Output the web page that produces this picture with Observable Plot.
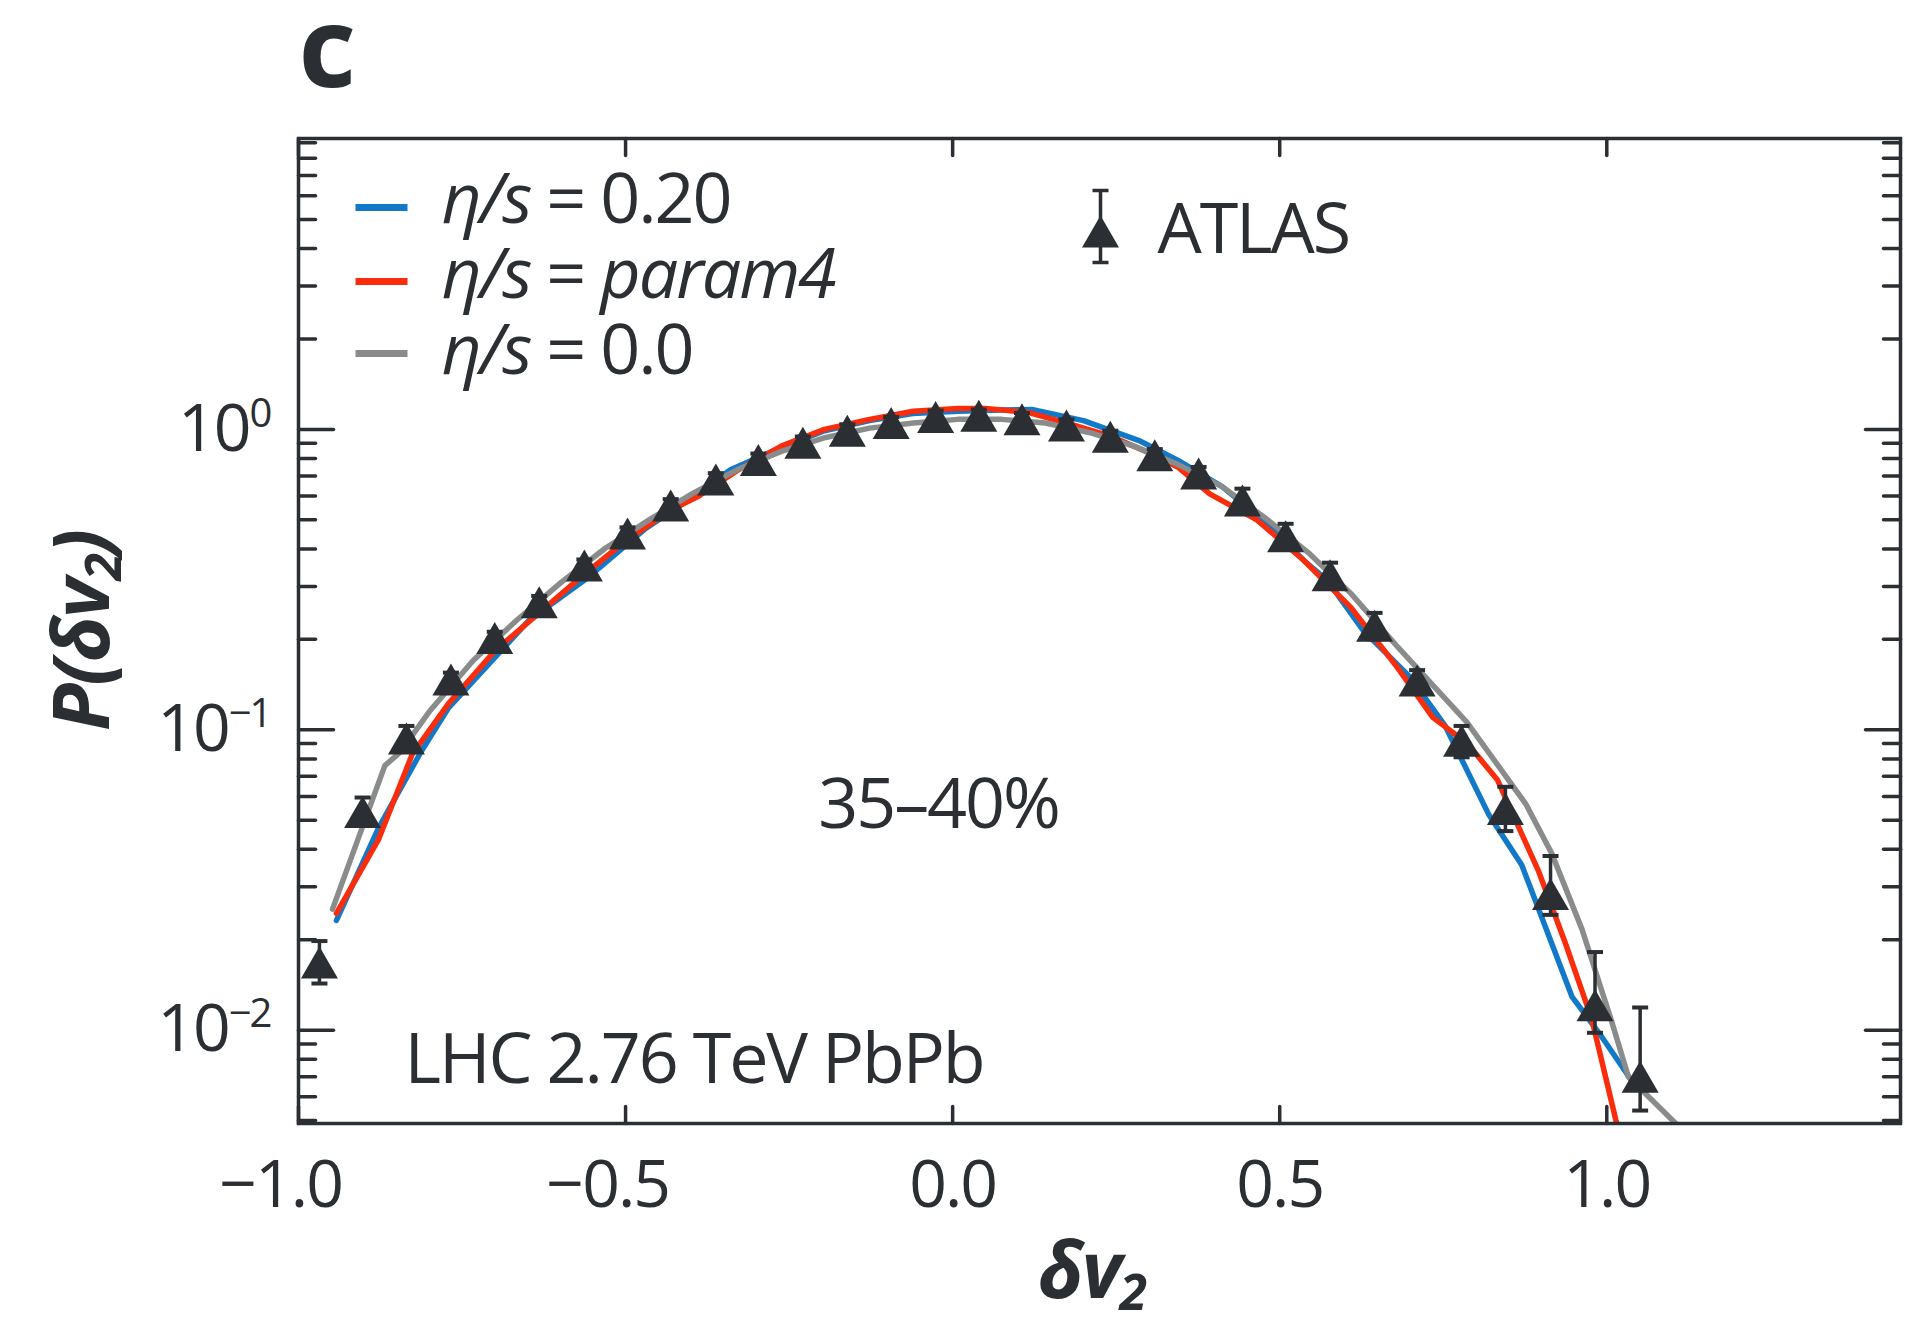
<!DOCTYPE html>
<html>
<head>
<meta charset="utf-8">
<script src="https://cdn.jsdelivr.net/npm/d3@7"></script>
<script src="https://cdn.jsdelivr.net/npm/@observablehq/plot@0.6"></script>
<style>
  html, body { margin: 0; padding: 0; background: #fff; overflow: hidden; }
  #chart { position: relative; width: 1922px; height: 1326px; }
  #chart svg { display: block; }
  #chart svg text { letter-spacing: -0.03em; }
</style>
</head>
<body>
<div id="chart"></div>
<script>
// ---------------- data ----------------
// ATLAS points: δv2 bin centres, P(δv2), and error-bar ends
const atlasX = [-0.968, -0.902, -0.835, -0.767, -0.700, -0.632, -0.563, -0.497, -0.431, -0.362, -0.297, -0.229, -0.161, -0.094, -0.026, 0.040, 0.106, 0.174, 0.241, 0.309, 0.376, 0.443, 0.509, 0.577, 0.645, 0.710, 0.778, 0.845, 0.914, 0.982, 1.051];
const atlasP = [0.0168, 0.0533, 0.0936, 0.147, 0.202, 0.266, 0.352, 0.450, 0.558, 0.681, 0.791, 0.902, 0.99, 1.05, 1.10, 1.11, 1.08, 1.03, 0.946, 0.82, 0.713, 0.58, 0.441, 0.327, 0.222, 0.146, 0.092, 0.0545, 0.0284, 0.0121, 0.0070];
const atlasLow = [0.0143, 0.048, 0.085, 0.139, 0.192, 0.253, 0.335, 0.428, 0.53, 0.647, 0.751, 0.857, 0.94, 1.0, 1.045, 1.055, 1.026, 0.98, 0.9, 0.78, 0.675, 0.53, 0.40, 0.297, 0.200, 0.132, 0.081, 0.046, 0.0242, 0.0098, 0.0054];
const atlasHigh = [0.0198, 0.0595, 0.103, 0.155, 0.212, 0.279, 0.369, 0.472, 0.586, 0.715, 0.831, 0.947, 1.04, 1.1, 1.155, 1.165, 1.134, 1.08, 0.99, 0.86, 0.75, 0.635, 0.485, 0.36, 0.245, 0.158, 0.103, 0.0646, 0.038, 0.0182, 0.0119];

// Model curves
const viscX = [-0.942, -0.878, -0.812, -0.771, -0.700, -0.648, -0.560, -0.471, -0.400, -0.339, -0.262, -0.196, -0.127, -0.061, 0.008, 0.075, 0.121, 0.200, 0.284, 0.344, 0.412, 0.479, 0.537, 0.573, 0.627, 0.699, 0.753, 0.820, 0.870, 0.916, 0.947, 0.988, 1.030, 1.045];
const viscP = [0.0232, 0.047, 0.085, 0.118, 0.174, 0.231, 0.318, 0.465, 0.59, 0.735, 0.87, 0.99, 1.07, 1.13, 1.15, 1.16, 1.165, 1.07, 0.92, 0.79, 0.645, 0.49, 0.366, 0.314, 0.215, 0.150, 0.103, 0.052, 0.0355, 0.0194, 0.0129, 0.0098, 0.0072, 0.0064];

const paramX = [-0.942, -0.878, -0.826, -0.771, -0.700, -0.632, -0.563, -0.497, -0.430, -0.388, -0.329, -0.262, -0.196, -0.127, -0.060, 0.008, 0.050, 0.115, 0.175, 0.241, 0.309, 0.344, 0.393, 0.465, 0.537, 0.609, 0.680, 0.734, 0.787, 0.833, 0.896, 0.937, 0.977, 1.015, 1.025];
const paramP = [0.0245, 0.043, 0.083, 0.122, 0.183, 0.245, 0.33, 0.43, 0.54, 0.60, 0.73, 0.88, 1.00, 1.08, 1.15, 1.175, 1.175, 1.14, 1.05, 0.95, 0.82, 0.75, 0.61, 0.50, 0.366, 0.255, 0.161, 0.110, 0.090, 0.068, 0.0337, 0.0194, 0.0109, 0.0049, 0.0040];

const idealX = [-0.948, -0.868, -0.845, -0.800, -0.733, -0.666, -0.598, -0.531, -0.464, -0.396, -0.329, -0.262, -0.194, -0.127, -0.060, 0.008, 0.075, 0.142, 0.210, 0.277, 0.344, 0.412, 0.479, 0.546, 0.609, 0.681, 0.786, 0.876, 0.916, 0.962, 1.008, 1.033, 1.105, 1.130];
const idealP = [0.0253, 0.076, 0.084, 0.115, 0.170, 0.232, 0.310, 0.402, 0.50, 0.615, 0.735, 0.845, 0.94, 1.01, 1.05, 1.08, 1.08, 1.05, 0.975, 0.88, 0.765, 0.645, 0.505, 0.385, 0.284, 0.188, 0.106, 0.0567, 0.0387, 0.0217, 0.0106, 0.0070, 0.0049, 0.0042];

const seriesNames = ["η/s = 0.20", "η/s = param4", "η/s = 0.0"];
const seriesColors = ["#1279c9", "#f92d0c", "#8a8c8c"];

// Ticks and labels
const xTicks = [-1.0, -0.5, 0.0, 0.5, 1.0];
const yDecades = [0.01, 0.1, 1];
const yMinor = [0.005, 0.006, 0.007, 0.008, 0.009, 0.02, 0.03, 0.04, 0.05, 0.06, 0.07, 0.08, 0.09, 0.2, 0.3, 0.4, 0.5, 0.6, 0.7, 0.8, 0.9, 2, 3, 4, 5, 6, 7, 8, 9];
const panelLabel = "c";
const centralityLabel = "35–40%";
const systemLabel = "LHC 2.76 TeV PbPb";
const dataLabel = "ATLAS";
const xTitle = "δv2";
const yTitle = "P(δv2)";

// ---------------- styling ----------------
const ink = "#2b2e32";
const FONT = "'Open Sans', 'Noto Sans', sans-serif";
const legendSwatchDy = [69, 143, 215];
const legendTextDy = [84, 159, 235];

// ---------------- build ----------------
const atlas = atlasX.map((x, i) => ({x, p: atlasP[i], lo: atlasLow[i], hi: atlasHigh[i]}));
const rows = (xs, ps) => xs.map((x, i) => ({x, p: ps[i]}));
const curves = [rows(viscX, viscP), rows(paramX, paramP), rows(idealX, idealP)];

const triangle = {draw(c) { c.moveTo(0, -16); c.lineTo(18.5, 16); c.lineTo(-18.5, 16); c.closePath(); }};
const cap = {draw(c) { c.moveTo(-8, 0); c.lineTo(8, 0); }};
const swatch = {draw(c) { c.rect(-26, -3.5, 52, 7); }};
const legendBar = {draw(c) { c.moveTo(0, -36); c.lineTo(0, 36); c.moveTo(-8, -36); c.lineTo(8, -36); c.moveTo(-8, 36); c.lineTo(8, 36); }};
const tickLine = {draw(c, l) { c.moveTo(0, 0); c.lineTo(0, -l); }};

const frameTicks = (values, channel, frameAnchor, rotate, length) =>
  Plot.vector(values, {[channel]: d => d, frameAnchor, rotate, length, anchor: "start", shape: tickLine, stroke: ink, strokeWidth: 3.5});

const label = (txt, o) => Plot.text([txt], {fill: ink, fontSize: 70, lineAnchor: "bottom", textAnchor: "start", ...o});

const svg = Plot.plot({
  width: 1922, height: 1326,
  marginLeft: 298, marginRight: 22, marginTop: 138, marginBottom: 203,
  style: {fontFamily: FONT, color: ink, background: "#fff"},
  x: {domain: [-1.0, 1.449]},
  y: {type: "log", domain: [0.00489, 9.3]},
  marks: [
    ...curves.map((d, i) => Plot.line(d, {x: "x", y: "p", stroke: seriesColors[i], strokeWidth: 5.5, strokeLinejoin: "round", clip: true})),
    Plot.ruleX(atlas, {x: "x", y1: "lo", y2: "hi", stroke: ink, strokeWidth: 3.5, clip: true}),
    Plot.dot(atlas, {x: "x", y: "lo", symbol: cap, fill: "none", stroke: ink, strokeWidth: 4, clip: true}),
    Plot.dot(atlas, {x: "x", y: "hi", symbol: cap, fill: "none", stroke: ink, strokeWidth: 4, clip: true}),
    Plot.dot(atlas, {x: "x", y: "p", symbol: triangle, fill: ink, stroke: "none", clip: true}),
    // frame ticks (inward)
    frameTicks(yDecades, "y", "left", 90, 35),
    frameTicks(yMinor, "y", "left", 90, 17),
    frameTicks(yDecades, "y", "right", -90, 35),
    frameTicks(yMinor, "y", "right", -90, 17),
    frameTicks(xTicks, "x", "bottom", 0, 17),
    frameTicks(xTicks, "x", "top", 180, 17),
    Plot.frame({stroke: ink, strokeWidth: 3.5}),
    Plot.axisX({ticks: xTicks, tickSize: 0, tickPadding: 37, tickFormat: d3.format(".1f"), fontSize: 66, color: ink, label: null}),
    Plot.axisY({ticks: yDecades, anchor: "left", tickSize: 0, tickPadding: 28, tickFormat: d => "10^" + Math.round(Math.log10(d)), fontSize: 66, color: ink, label: null}),
    // legend: model curves
    ...seriesNames.map((name, i) => Plot.dot([name], {frameAnchor: "top-left", dx: 83, dy: legendSwatchDy[i], symbol: swatch, fill: seriesColors[i], stroke: "none"})),
    ...seriesNames.map((name, i) => label(name, {frameAnchor: "top-left", dx: 143, dy: legendTextDy[i]})),
    // legend: ATLAS
    Plot.dot([dataLabel], {frameAnchor: "top-left", dx: 802, dy: 88, symbol: legendBar, fill: "none", stroke: ink, strokeWidth: 3.5}),
    Plot.dot([dataLabel], {frameAnchor: "top-left", dx: 802, dy: 93, symbol: triangle, fill: ink, stroke: "none"}),
    label(dataLabel, {frameAnchor: "top-left", dx: 859, dy: 114}),
    // annotations
    label(centralityLabel, {frameAnchor: "top-left", dx: 640, dy: 689, textAnchor: "middle"}),
    label(systemLabel, {frameAnchor: "top-left", dx: 106, dy: 944}),
    label(panelLabel, {frameAnchor: "top-left", dx: 0, dy: -52, fontSize: 112, fontWeight: 700}),
    // axis titles
    label(xTitle, {frameAnchor: "bottom", dx: -8, dy: 174, textAnchor: "middle", fontSize: 78, fontWeight: 700, fontStyle: "italic"}),
    label(yTitle, {frameAnchor: "left", dx: -190, dy: 0, rotate: -90, textAnchor: "middle", fontSize: 78, fontWeight: 700, fontStyle: "italic"})
  ]
});

document.getElementById("chart").append(svg);

// ---------------- rich text (italics, sub/superscripts) ----------------
const S = d3.select(svg);
const sub = (t) => `<tspan font-size="50" dy="12">${t}</tspan>`;
const richMap = {
  [seriesNames[0]]: `<tspan font-style="italic">η/s</tspan> = 0.20`,
  [seriesNames[1]]: `<tspan font-style="italic">η/s</tspan> = <tspan font-style="italic">param4</tspan>`,
  [seriesNames[2]]: `<tspan font-style="italic">η/s</tspan> = 0.0`,
  [xTitle]: `δv${sub("2")}`,
  [yTitle]: `P(δv${sub("2")}<tspan dy="-12">)</tspan>`
};
S.selectAll("text").each(function () {
  if (this.querySelector("tspan")) return;
  const r = richMap[this.textContent];
  if (r) this.innerHTML = r;
});
S.selectAll('g[aria-label="y-axis tick label"] text').each(function () {
  const m = this.textContent.match(/^10\^(-?\d+)$/);
  if (!m) return;
  const e = m[1].replace("-", "\u2212");
  this.textContent = "10";
  d3.select(this).append("tspan").attr("font-size", 40).attr("dy", -24).text(e);
});
S.selectAll('g[aria-label="x-axis tick label"] text').each(function () {
  const t = this.textContent;
  if (t.startsWith("\u2212") || t.startsWith("-")) {
    const w = this.getSubStringLength(0, 1);
    this.setAttribute("dx", -w / 2);
  }
});
</script>
</body>
</html>
